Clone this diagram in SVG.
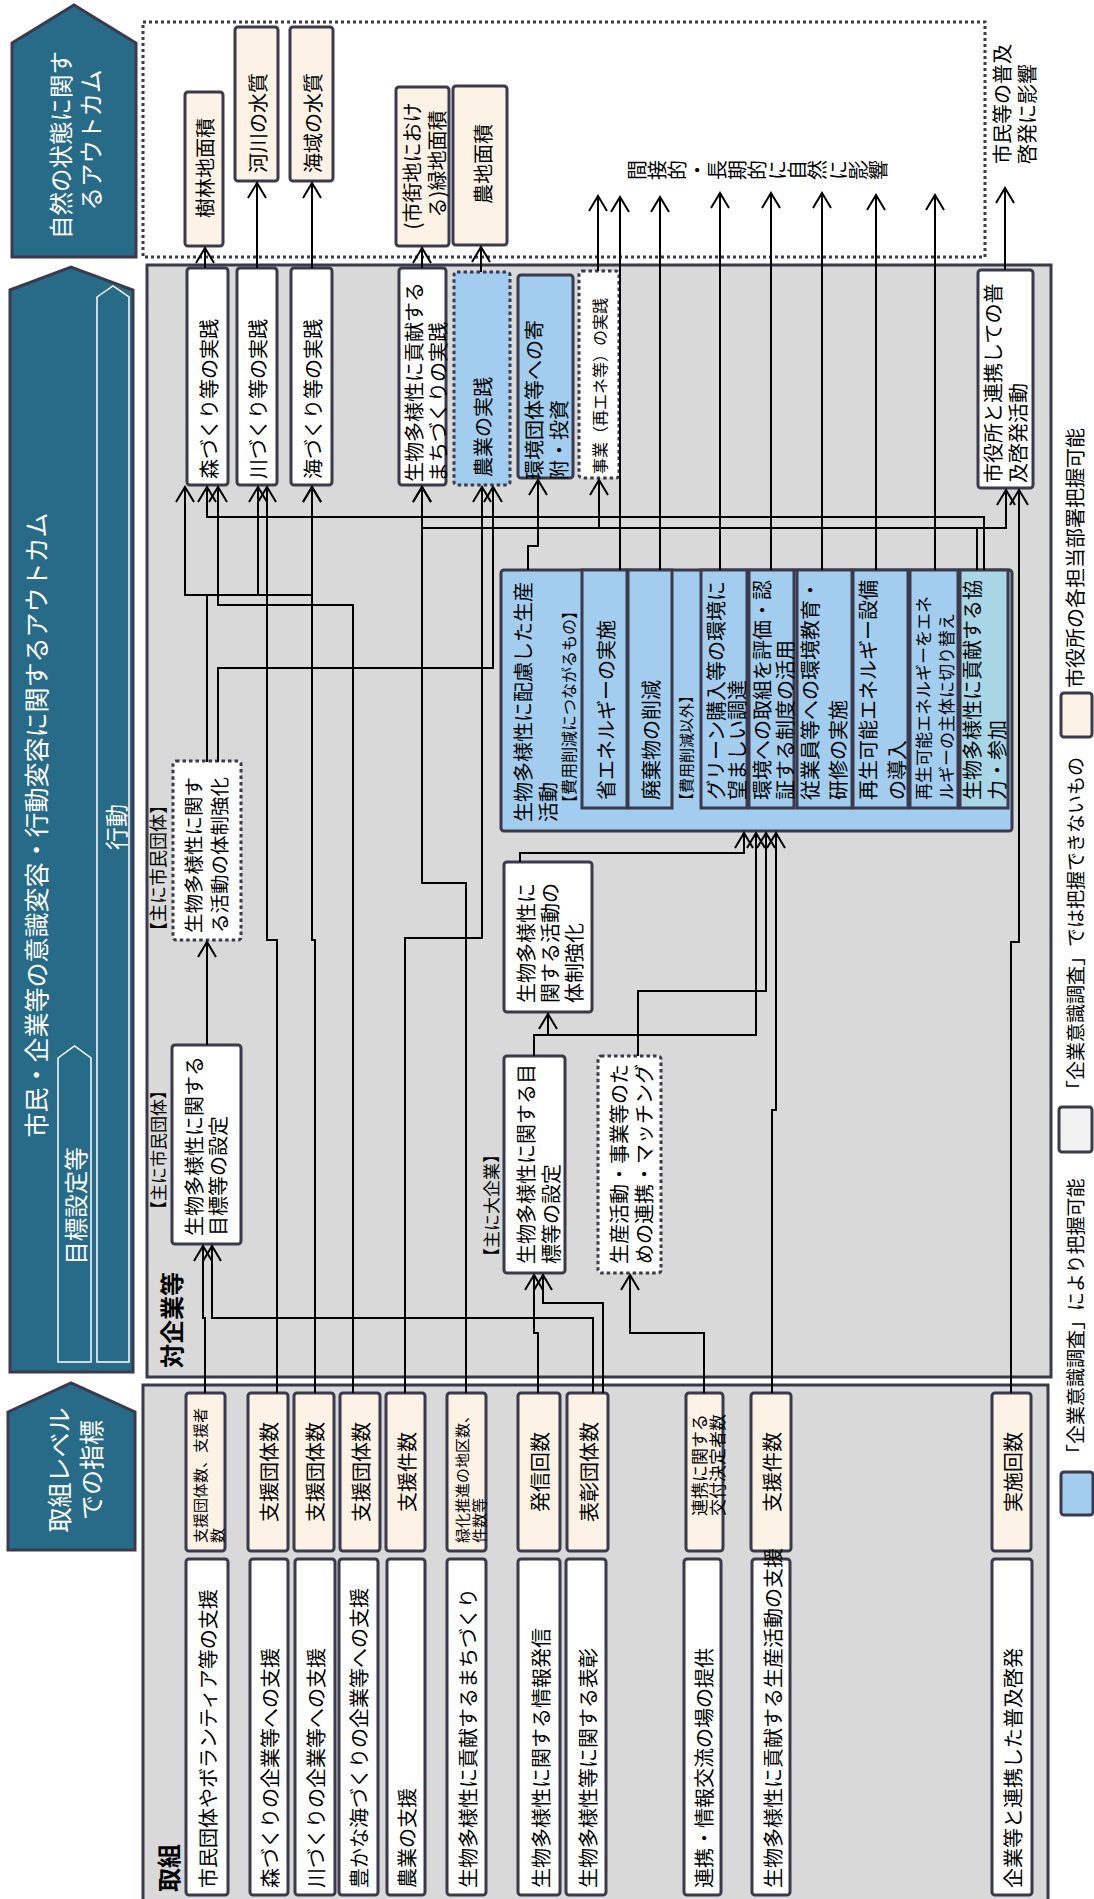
<svg xmlns="http://www.w3.org/2000/svg" width="1094" height="1899" viewBox="0 0 1094 1899">
<defs>
<style>
text{font-family:"Noto Sans CJK JP","Noto Sans CJK SC","Noto Sans",sans-serif;font-size:20px;fill:#000;dominant-baseline:central}
.m{text-anchor:middle}
.wt{fill:#fff}
.bd{font-weight:bold;font-size:24px}
.hd{fill:#286b89;stroke:#3b3a4c;stroke-width:3}
.ia{fill:none;stroke:#fff;stroke-width:1.5}
.area{fill:#d9d9d9;stroke:#3b3a4c;stroke-width:3}
.box{stroke:#3b3a4c;stroke-width:3}
.w{fill:#fff}.bg{fill:#fdf2e6}.bl{fill:#a3cdee}.bl2{fill:#a9d6e6}.gy{fill:#f2f2f2}
.dot{stroke-dasharray:3.5 3}
.cn{fill:none;stroke:#000;stroke-width:2;marker-end:url(#ah)}
.f15{font-size:15px}.f16{font-size:16px}.f17{font-size:17px}.f18{font-size:18px}.f19{font-size:19px}
</style>
<marker id="ah" markerUnits="userSpaceOnUse" markerWidth="20" markerHeight="20" refX="0" refY="0" orient="auto" overflow="visible">
<path d="M-15,-9 L0,0 L-15,9" fill="none" stroke="#000" stroke-width="2"/>
</marker>
</defs>
<rect width="1094" height="1899" fill="#fff"/>

<g id="h_shizen">
<polygon class="hd" points="12,43 74,5 136,43 136,257 12,257"/>
<text class="m wt" style="font-size:23.5px" transform="translate(60,145) rotate(-90)">自然の状態に関す</text>
<text class="m wt" style="font-size:23.5px" transform="translate(90,140) rotate(-90)">るアウトカム</text>
</g>
<g id="h_ishiki">
<polygon class="hd" points="10,290 71,267 133,290 133,1372 10,1372"/>
<polygon class="ia" points="97,297 113,286 129,297 129,1362 97,1362"/>
<polygon class="ia" points="58,1058 74.5,1046 91,1058 91,1362 58,1362"/>
<text class="m wt" style="font-size:25px" transform="translate(35,825) rotate(-90)">市民・企業等の意識変容・行動変容に関するアウトカム</text>
<text class="m wt" style="font-size:23px" transform="translate(115,827) rotate(-90)">行動</text>
<text class="m wt" style="font-size:23.5px" transform="translate(75,1206) rotate(-90)">目標設定等</text>
</g>
<g id="h_torikumi">
<polygon class="hd" points="8,1412 71,1383 135,1412 135,1550 8,1550"/>
<text class="m wt" style="font-size:25px" transform="translate(58,1470) rotate(-90)">取組レベル</text>
<text class="m wt" style="font-size:25px" transform="translate(90,1470) rotate(-90)">での指標</text>
</g>

<rect x="143" y="22" width="842" height="235" fill="none" stroke="#3b3a4c" stroke-width="3" stroke-dasharray="3 3"/>
<rect class="area" x="147" y="265" width="904" height="1112"/>
<rect class="area" x="143" y="1385" width="905" height="520"/>
<text class="bd" transform="translate(170,1368) rotate(-90)">対企業等</text>
<text class="bd" transform="translate(167,1892) rotate(-90)">取組</text>

<g id="n_jurin"><rect class="box bg" x="185" y="92" width="38" height="154" rx="3"/>
<text class="m" transform="translate(204,168) rotate(-90)">樹林地面積</text></g>
<g id="n_kasen"><rect class="box bg" x="235" y="27" width="43" height="154" rx="3"/>
<text class="m" transform="translate(257,123) rotate(-90)">河川の水質</text></g>
<g id="n_kaiiki"><rect class="box bg" x="290" y="27" width="43" height="154" rx="3"/>
<text class="m" transform="translate(312,123) rotate(-90)">海域の水質</text></g>
<g id="n_ryokuchi"><rect class="box bg" x="396" y="87" width="53" height="159" rx="3"/>
<text class="m" transform="translate(411,166) rotate(-90)">(市街地におけ</text>
<text class="m" transform="translate(436,164) rotate(-90)">る)緑地面積</text></g>
<g id="n_nochi"><rect class="box bg" x="453" y="86" width="54" height="159" rx="3"/>
<text class="m" transform="translate(482,164) rotate(-90)">農地面積</text></g>
<g id="t_kansetsu">
<text class="m" transform="translate(636,170) rotate(-90)">間</text>
<text class="m" transform="translate(656.1,170) rotate(-90)">接</text>
<text class="m" transform="translate(676.2,170) rotate(-90)">的</text>
<text class="m" transform="translate(696.3,170) rotate(-90)">・</text>
<text class="m" transform="translate(716.4,170) rotate(-90)">長</text>
<text class="m" transform="translate(736.5,170) rotate(-90)">期</text>
<text class="m" transform="translate(756.6,170) rotate(-90)">的</text>
<text class="m" transform="translate(776.7,170) rotate(-90)">に</text>
<text class="m" transform="translate(796.8,170) rotate(-90)">自</text>
<text class="m" transform="translate(816.9,170) rotate(-90)">然</text>
<text class="m" transform="translate(837,170) rotate(-90)">に</text>
<text class="m" transform="translate(857.1,170) rotate(-90)">影</text>
<text class="m" transform="translate(877.2,170) rotate(-90)">響</text>
</g>
<g id="t_fukyu">
<text transform="translate(1001,164) rotate(-90)">市民等の普及</text>
<text transform="translate(1026,164) rotate(-90)">啓発に影響</text>
</g>

<g id="n_mori"><rect class="box w" x="187" y="268" width="41" height="217" rx="3"/>
<text transform="translate(208,479) rotate(-90)">森づくり等の実践</text></g>
<g id="n_kawa"><rect class="box w" x="237" y="268" width="40" height="217" rx="3"/>
<text transform="translate(257,479) rotate(-90)">川づくり等の実践</text></g>
<g id="n_umi"><rect class="box w" x="291" y="268" width="41" height="217" rx="3"/>
<text transform="translate(312,479) rotate(-90)">海づくり等の実践</text></g>
<g id="n_machi"><rect class="box w" x="399" y="268" width="47" height="217" rx="3"/>
<text transform="translate(413,482) rotate(-90)">生物多様性に貢献する</text>
<text transform="translate(437,482) rotate(-90)">まちづくりの実践</text></g>
<g id="n_nogyo"><rect class="box bl dot" x="454" y="272" width="56" height="213" rx="3"/>
<text transform="translate(482,477) rotate(-90)">農業の実践</text></g>
<g id="n_kifu"><rect class="box bl" x="518" y="275" width="55" height="203" rx="3"/>
<text transform="translate(533,480) rotate(-90)">環境団体等への寄</text>
<text transform="translate(558,480) rotate(-90)">附・投資</text></g>
<g id="n_jigyo"><rect class="box w dot" x="579" y="271" width="40" height="207" rx="3"/>
<text class="f16" transform="translate(599,474) rotate(-90)">事業（再エネ等）の実践</text></g>
<g id="n_shiyakusho"><rect class="box w" x="978" y="270" width="55" height="218" rx="3"/>
<text transform="translate(992,483) rotate(-90)">市役所と連携しての普</text>
<text transform="translate(1017,483) rotate(-90)">及啓発活動</text></g>

<g id="n_seisan">
<rect class="box bl" x="501" y="570" width="511" height="261" rx="3"/>
<text transform="translate(522,822) rotate(-90)">生物多様性に配慮した生産</text>
<text transform="translate(547,822) rotate(-90)">活動</text>
<text class="f16" transform="translate(568,811) rotate(-90)">【費用削減につながるもの】</text>
<rect class="box bl" x="582" y="570" width="45" height="238"/>
<text transform="translate(605,800) rotate(-90)">省エネルギーの実施</text>
<rect class="box bl" x="628" y="570" width="44" height="238"/>
<text transform="translate(650,800) rotate(-90)">廃棄物の削減</text>
<text class="f15" transform="translate(685,808) rotate(-90)">【費用削減以外】</text>
<rect class="box bl" x="701" y="570" width="46" height="238"/>
<text transform="translate(715,800) rotate(-90)">グリーン購入等の環境に</text>
<text transform="translate(736,800) rotate(-90)">望ましい調達</text>
<rect class="box bl" x="749" y="570" width="45" height="238"/>
<text transform="translate(761,800) rotate(-90)">環境への取組を評価・認</text>
<text transform="translate(784,800) rotate(-90)">証する制度の活用</text>
<rect class="box bl" x="797" y="570" width="55" height="238"/>
<text transform="translate(809,800) rotate(-90)">従業員等への環境教育・</text>
<text transform="translate(837,800) rotate(-90)">研修の実施</text>
<rect class="box bl" x="853" y="570" width="55" height="238"/>
<text transform="translate(867,800) rotate(-90)">再生可能エネルギー設備</text>
<text transform="translate(896,800) rotate(-90)">の導入</text>
<rect class="box bl" x="910" y="570" width="48" height="238"/>
<text class="f17" transform="translate(922,800) rotate(-90)">再生可能エネルギーをエネ</text>
<text class="f17" transform="translate(945,800) rotate(-90)">ルギーの主体に切り替え</text>
<rect class="box bl2" x="960" y="570" width="48" height="238"/>
<text transform="translate(971,800) rotate(-90)">生物多様性に貢献する協</text>
<text transform="translate(996,800) rotate(-90)">力・参加</text>
</g>

<g id="n_taisei_shimin">
<text class="f18" transform="translate(157,940) rotate(-90)">【主に市民団体】</text>
<rect class="box w dot" x="173" y="761" width="68" height="179" rx="3"/>
<text style="font-size:19.5px" transform="translate(192,933) rotate(-90)">生物多様性に関す</text>
<text style="font-size:19.5px" transform="translate(218,933) rotate(-90)">る活動の体制強化</text>
</g>
<g id="n_mokuhyo_shimin">
<text class="f17" transform="translate(157,1218) rotate(-90)">【主に市民団体】</text>
<rect class="box w" x="172" y="1045" width="69" height="199" rx="3"/>
<text transform="translate(193,1236) rotate(-90)">生物多様性に関する</text>
<text transform="translate(217,1236) rotate(-90)">目標等の設定</text>
</g>
<g id="n_taisei_dai">
<rect class="box w" x="504" y="862" width="88" height="150" rx="3"/>
<text transform="translate(525,1003) rotate(-90)">生物多様性に</text>
<text transform="translate(549,1003) rotate(-90)">関する活動の</text>
<text transform="translate(573,1003) rotate(-90)">体制強化</text>
</g>
<g id="n_mokuhyo_dai">
<text class="f17" transform="translate(490,1265) rotate(-90)">【主に大企業】</text>
<rect class="box w" x="504" y="1056" width="61" height="217" rx="3"/>
<text transform="translate(525,1264) rotate(-90)">生物多様性に関する目</text>
<text transform="translate(550,1264) rotate(-90)">標等の設定</text>
</g>
<g id="n_matching">
<rect class="box w dot" x="598" y="1056" width="63" height="217" rx="3"/>
<text transform="translate(618,1264) rotate(-90)">生産活動・事業等のた</text>
<text transform="translate(643,1264) rotate(-90)">めの連携・マッチング</text>
</g>

<g id="i1"><rect class="box bg" x="186" y="1393" width="39" height="158" rx="3"/>
<text class="f15" transform="translate(199,1543) rotate(-90)">支援団体数、支援者</text>
<text class="f15" transform="translate(216,1543) rotate(-90)">数</text></g>
<g id="i2"><rect class="box bg" x="248" y="1393" width="40" height="158" rx="3"/>
<text class="m" transform="translate(268,1472) rotate(-90)">支援団体数</text></g>
<g id="i3"><rect class="box bg" x="294" y="1393" width="40" height="158" rx="3"/>
<text class="m" transform="translate(314,1472) rotate(-90)">支援団体数</text></g>
<g id="i4"><rect class="box bg" x="340" y="1393" width="40" height="158" rx="3"/>
<text class="m" transform="translate(360,1472) rotate(-90)">支援団体数</text></g>
<g id="i5"><rect class="box bg" x="386" y="1393" width="39" height="158" rx="3"/>
<text class="m" transform="translate(406,1472) rotate(-90)">支援件数</text></g>
<g id="i6"><rect class="box bg" x="447" y="1393" width="39" height="158" rx="3"/>
<text class="f15" transform="translate(461,1543) rotate(-90)">緑化推進の地区数、</text>
<text class="f15" transform="translate(478,1543) rotate(-90)">件数等</text></g>
<g id="i7"><rect class="box bg" x="518" y="1393" width="42" height="158" rx="3"/>
<text class="m" transform="translate(539,1472) rotate(-90)">発信回数</text></g>
<g id="i8"><rect class="box bg" x="567" y="1393" width="41" height="158" rx="3"/>
<text class="m" transform="translate(588,1472) rotate(-90)">表彰団体数</text></g>
<g id="i9"><rect class="box bg" x="686" y="1393" width="37" height="158" rx="3"/>
<text class="f17" transform="translate(698,1516) rotate(-90)">連携に関する</text>
<text class="f17" transform="translate(716,1516) rotate(-90)">交付決定者数</text></g>
<g id="i10"><rect class="box bg" x="751" y="1393" width="40" height="158" rx="3"/>
<text class="m" transform="translate(771,1472) rotate(-90)">支援件数</text></g>
<g id="i11"><rect class="box bg" x="992" y="1393" width="39" height="158" rx="3"/>
<text class="m" transform="translate(1012,1472) rotate(-90)">実施回数</text></g>

<g id="a1"><rect class="box w" x="186" y="1559" width="42" height="336" rx="3"/>
<text transform="translate(207,1888) rotate(-90)">市民団体やボランティア等の支援</text></g>
<g id="a2"><rect class="box w" x="250" y="1559" width="38" height="336" rx="3"/>
<text transform="translate(269,1888) rotate(-90)">森づくりの企業等への支援</text></g>
<g id="a3"><rect class="box w" x="295" y="1559" width="40" height="336" rx="3"/>
<text transform="translate(315,1888) rotate(-90)">川づくりの企業等への支援</text></g>
<g id="a4"><rect class="box w" x="339" y="1559" width="39" height="336" rx="3"/>
<text transform="translate(358,1888) rotate(-90)">豊かな海づくりの企業等への支援</text></g>
<g id="a5"><rect class="box w" x="387" y="1559" width="38" height="336" rx="3"/>
<text transform="translate(406,1888) rotate(-90)">農業の支援</text></g>
<g id="a6"><rect class="box w" x="447" y="1559" width="39" height="336" rx="3"/>
<text transform="translate(467,1888) rotate(-90)">生物多様性に貢献するまちづくり</text></g>
<g id="a7"><rect class="box w" x="518" y="1559" width="42" height="336" rx="3"/>
<text transform="translate(540,1888) rotate(-90)">生物多様性に関する情報発信</text></g>
<g id="a8"><rect class="box w" x="566" y="1559" width="40" height="336" rx="3"/>
<text transform="translate(587,1888) rotate(-90)">生物多様性等に関する表彰</text></g>
<g id="a9"><rect class="box w" x="684" y="1559" width="37" height="336" rx="3"/>
<text transform="translate(703,1888) rotate(-90)">連携・情報交流の場の提供</text></g>
<g id="a10"><rect class="box w" x="752" y="1559" width="38" height="336" rx="3"/>
<text transform="translate(772,1888) rotate(-90)">生物多様性に貢献する生産活動の支援</text></g>
<g id="a11"><rect class="box w" x="992" y="1559" width="40" height="336" rx="3"/>
<text transform="translate(1012,1888) rotate(-90)">企業等と連携した普及啓発</text></g>

<g id="legend">
<rect class="box bl" x="1061" y="1472" width="32" height="43" rx="3"/>
<text class="f19" transform="translate(1074,1463) rotate(-90)">「企業意識調査」により把握可能</text>
<rect class="box gy" x="1059" y="1107" width="33" height="45" rx="3"/>
<text class="f19" transform="translate(1074,1099) rotate(-90)">「企業意識調査」では把握できないもの</text>
<rect class="box bg" x="1061" y="693" width="31" height="44" rx="3"/>
<text transform="translate(1074,688) rotate(-90)">市役所の各担当部署把握可能</text>
</g>

<g id="connectors">
<path class="cn" d="M205,268 V248"/>
<path class="cn" d="M257,268 V183"/>
<path class="cn" d="M312,268 V183"/>
<path class="cn" d="M422,268 V248"/>
<path class="cn" d="M481,272 V247"/>
<path class="cn" d="M598,271 V196"/>
<path class="cn" d="M620,570 V197"/>
<path class="cn" d="M660,570 V197"/>
<path class="cn" d="M720,570 V193"/>
<path class="cn" d="M771,570 V193"/>
<path class="cn" d="M822,570 V193"/>
<path class="cn" d="M876,570 V195"/>
<path class="cn" d="M935,570 V195"/>
<path class="cn" d="M1005,270 V188"/>
<path class="cn" d="M207,762 V595 H185 V487"/>
<path class="cn" d="M207,595 H258 V487"/>
<path class="cn" d="M258,595 H312 V487"/>
<path class="cn" d="M218,762 V668 H493 V487"/>
<path class="cn" d="M207,1045 V942"/>
<path class="cn" d="M205,1393 V1318 H203 V1246"/>
<path class="cn" d="M593,1393 V1318 H212 V1246"/>
<path class="cn" d="M353,1393 V605 H218 V487"/>
<path class="cn" d="M277,1393 V940 H267 V487"/>
<path class="cn" d="M315,1393 V940 H312 V487"/>
<path class="cn" d="M405,1393 V938 H482 V487"/>
<path class="cn" d="M466,1393 V883 H422 V487"/>
<path class="cn" d="M984,570 V517 H207 V487"/>
<path class="cn" d="M977,570 V528 H422 V487"/>
<path class="cn" d="M599,528 V480"/>
<path class="cn" d="M977,528 H1006 V490"/>
<path class="cn" d="M528,570 V546 H538 V480"/>
<path class="cn" d="M520,862 V853 H744 V833"/>
<path class="cn" d="M534,1056 V1035 H548 V1014"/>
<path class="cn" d="M534,1035 H756 V833"/>
<path class="cn" d="M638,1056 V991 H766 V833"/>
<path class="cn" d="M772,1393 V1110 H776 V833"/>
<path class="cn" d="M538,1393 V1333 H534 V1275"/>
<path class="cn" d="M603,1393 V1303 H543 V1275"/>
<path class="cn" d="M704,1393 V1333 H630 V1275"/>
<path class="cn" d="M1011,1393 V942 H1019 V490"/>
</g>
</svg>
